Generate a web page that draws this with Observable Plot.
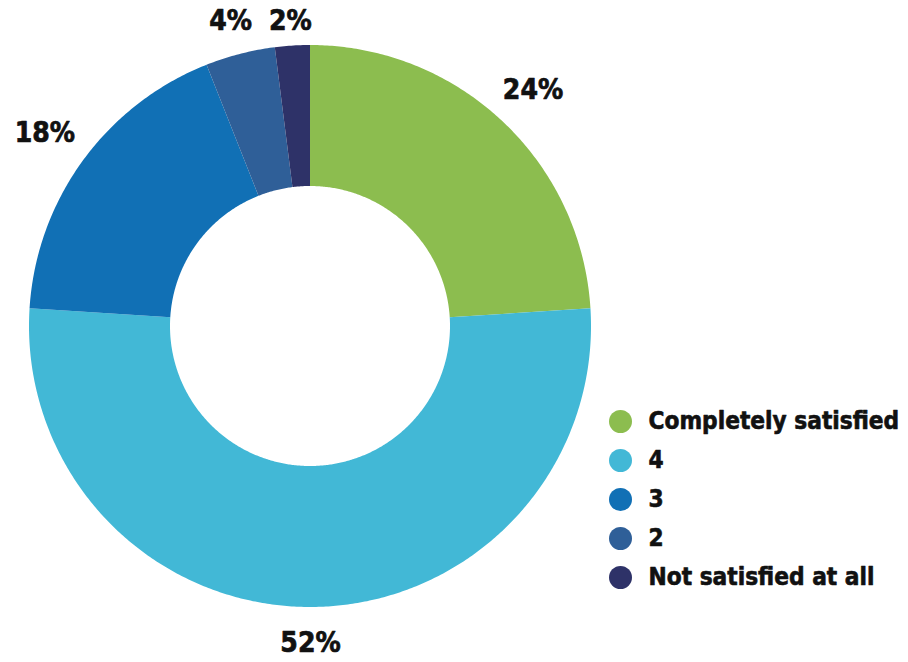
<!DOCTYPE html>
<html>
<head>
<meta charset="utf-8">
<script src="https://cdn.jsdelivr.net/npm/d3@7"></script>
<script src="https://cdn.jsdelivr.net/npm/@observablehq/plot@0.6"></script>
<style>
  html, body { margin: 0; padding: 0; background: #fff; }
  #chart { width: 908px; height: 662px; }
</style>
</head>
<body>
<div id="chart"></div>
<script>
const categories = ["Completely satisfied", "4", "3", "2", "Not satisfied at all"];
const shares = [24, 52, 18, 4, 2];
const labels = ["24%", "52%", "18%", "4%", "2%"];
const colors = ["#8cbd4f", "#42b8d6", "#1170b5", "#2f5f98", "#2e3268"];

// geometry (pixel units, centre of donut at 0,0)
const outerR = 281, innerR = 140, labelGap = 30, labelTopLimit = 305, labelBottomLimit = -317;
const labelFont = 28, legendFont = 24.2;

const pie = d3.pie().sort(null).value(d => d.v)(categories.map((c, i) => ({c, v: shares[i], l: labels[i]})));

const sliceRows = [];
const labelRows = [];
for (const p of pie) {
  const n = Math.max(8, Math.ceil((p.endAngle - p.startAngle) / (Math.PI / 360)));
  for (let k = 0; k <= n; k++) {
    const a = p.startAngle + (p.endAngle - p.startAngle) * k / n;
    sliceRows.push({
      cat: p.data.c,
      x1: innerR * Math.sin(a), y1: innerR * Math.cos(a),
      x2: outerR * Math.sin(a), y2: outerR * Math.cos(a)
    });
  }
  // place the label box just outside the ring along the slice's mid-angle
  const m = (p.startAngle + p.endAngle) / 2;
  const s = Math.sin(m), c = Math.cos(m);
  const w = p.data.l.length * labelFont * 0.62, h = labelFont * 0.73;
  const t = Math.min(Math.abs(s) > 1e-6 ? (w / 2) / Math.abs(s) : Infinity, Math.abs(c) > 1e-6 ? (h / 2) / Math.abs(c) : Infinity);
  const r = outerR + labelGap + t;
  labelRows.push({text: p.data.l, x: r * s, y: Math.max(labelBottomLimit, Math.min(r * c, labelTopLimit))});
}

const legendRows = categories.map((c, i) => ({cat: c, x: 310, y: -95 - 39 * i}));

const font = "'DejaVu Sans Condensed', 'DejaVu Sans', sans-serif";

const chart = Plot.plot({
  width: 908,
  height: 662,
  margin: 0,
  x: {domain: [-310, 598], axis: null},
  y: {domain: [-336, 326], axis: null},
  color: {domain: categories, range: colors},
  style: {fontFamily: font, background: "#fff"},
  marks: [
    Plot.area(sliceRows, {x1: "x1", y1: "y1", x2: "x2", y2: "y2", z: "cat", fill: "cat", curve: "linear"}),
    Plot.text(labelRows, {x: "x", y: "y", text: "text", fontSize: labelFont, fontWeight: "bold", fill: "#111", stroke: "#111", strokeWidth: 0.7, fontFamily: font}),
    Plot.dot(legendRows, {x: "x", y: "y", r: 11.5, fill: "cat"}),
    Plot.text(legendRows, {x: "x", y: "y", text: "cat", dx: 28, textAnchor: "start", fontSize: legendFont, fontWeight: "bold", fill: "#111", stroke: "#111", strokeWidth: 0.6, fontFamily: font})
  ]
});
document.getElementById("chart").appendChild(chart);
</script>
</body>
</html>
